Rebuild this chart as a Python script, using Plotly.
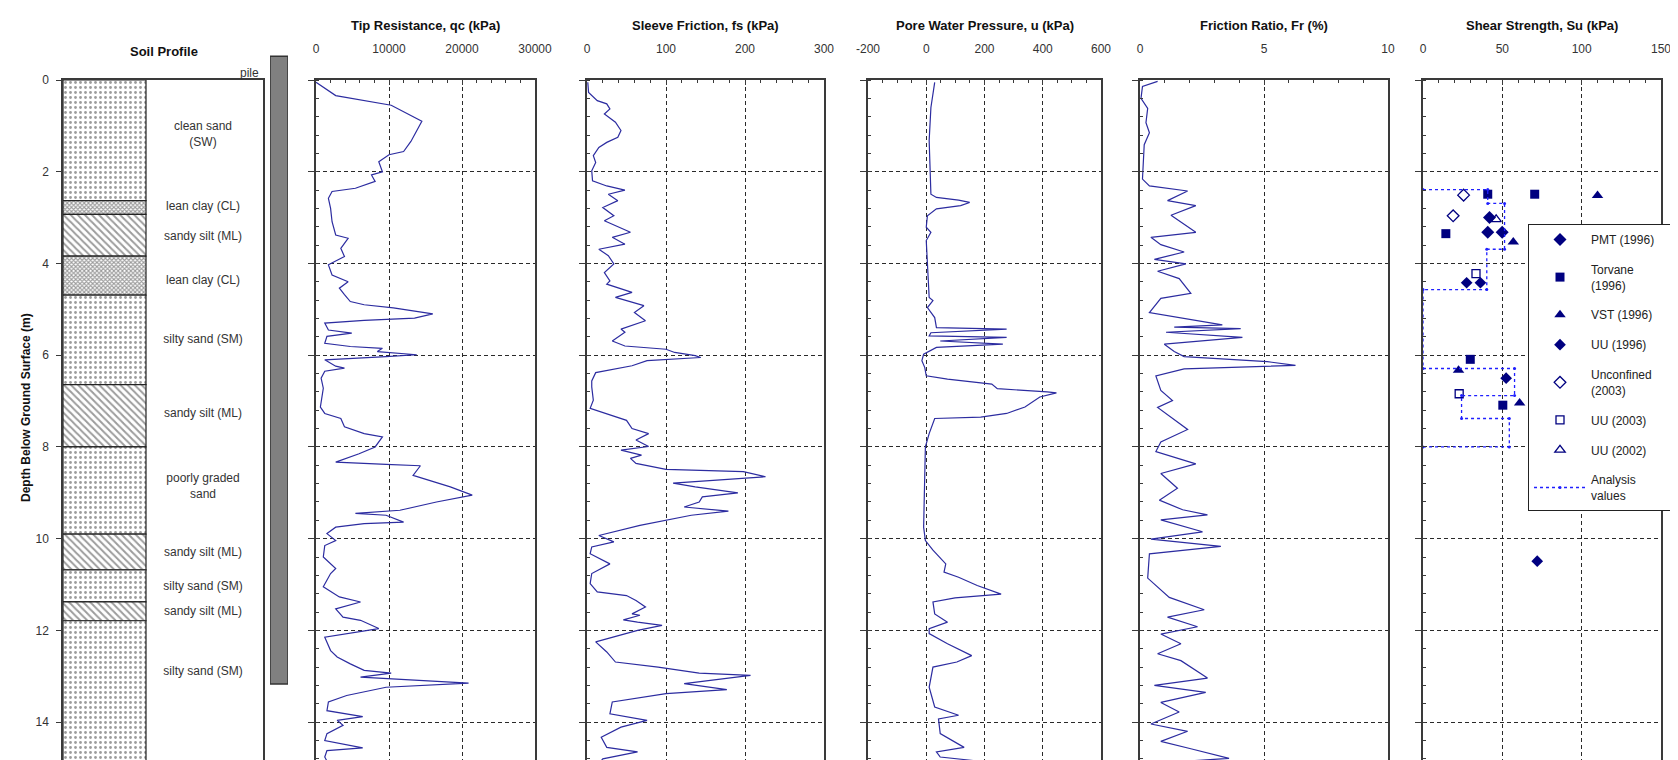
import plotly.graph_objects as go

W, H = 1678, 760

# ---------------- data ----------------
layer_top = [0.0, 2.63, 2.93, 3.84, 4.69, 6.64, 8.0, 9.9, 10.68, 11.38, 11.79]
layer_bottom = [2.63, 2.93, 3.84, 4.69, 6.64, 8.0, 9.9, 10.68, 11.38, 11.79, 15.5]
layer_type = ["sand", "clay", "silt", "clay", "sand", "silt", "sand", "silt", "sand", "silt", "sand"]
label_text = ["clean sand<br>(SW)", "lean clay (CL)", "sandy silt (ML)", "lean clay (CL)",
              "silty sand (SM)", "sandy silt (ML)", "poorly graded<br>sand", "sandy silt (ML)",
              "silty sand (SM)", "sandy silt (ML)", "silty sand (SM)"]
label_depth = [1.2, 2.77, 3.42, 4.38, 5.66, 7.29, 8.88, 10.32, 11.05, 11.6, 12.9]
pile_top, pile_bottom = -0.52, 13.17

qc_depth = [0.05, 0.34, 0.55, 0.9, 1.34, 1.56, 1.63, 1.78, 2.0, 2.07, 2.21, 2.36, 2.43, 2.58, 2.8, 3.09,
            3.38, 3.45, 3.67, 3.85, 4.03, 4.25, 4.4, 4.54, 4.68, 4.83, 4.9, 4.97, 5.1, 5.19, 5.24, 5.3,
            5.45, 5.52, 5.59, 5.74, 5.81, 5.85, 5.92, 5.99, 6.03, 6.1, 6.24, 6.28, 6.35, 6.5, 6.72,
            7.13, 7.27, 7.38, 7.56, 7.71, 7.78, 8.0, 8.15, 8.33, 8.38, 8.41, 8.62, 8.73, 8.87, 9.05,
            9.2, 9.38, 9.45, 9.49, 9.64, 9.67, 9.75, 9.89, 10.04, 10.15, 10.4, 10.65, 10.76, 11.05,
            11.27, 11.38, 11.53, 11.71, 11.78, 11.96, 12.15, 12.44, 12.58, 12.73, 12.87, 12.93, 13.02,
            13.15, 13.24, 13.42, 13.56, 13.75, 13.88, 13.96, 14.07, 14.25, 14.4, 14.56, 14.62, 14.76,
            14.91, 15.0]
qc_value = [0, 2700, 10300, 14500, 13000, 12000, 10000, 8600, 9100, 7600, 8100, 5400, 2200, 1700, 2000, 2200,
            2700, 4400, 3400, 3900, 1700, 2200, 4400, 3200, 3900, 4700, 6600, 10600, 16000, 13500, 6600, 1200,
            1700, 4900, 1500, 1200, 4700, 9100, 8400, 13800, 9600, 1200, 2700, 3900, 1200, 700, 1000,
            600, 1200, 3400, 3900, 6600, 9100, 8100, 5900, 2700, 9600, 14300, 13300, 15500, 18400, 21400,
            16500, 11500, 5400, 9600, 12000, 6600, 2700, 1500, 2700, 1200, 1000, 2700, 2000, 1000,
            3200, 6100, 2700, 3700, 6100, 8600, 1200, 2000, 2900, 4700, 6600, 10300, 6100,
            20900, 9600, 4200, 1700, 1500, 6400, 2900, 3700, 1500, 1200, 6400, 1500, 1200,
            1700, 1500]

fs_depth = [0.05, 0.27, 0.45, 0.52, 0.63, 0.74, 0.92, 1.1, 1.25, 1.36, 1.47, 1.65, 1.8, 1.98, 2.2, 2.31,
            2.4, 2.49, 2.63, 2.78, 2.96, 3.07, 3.32, 3.43, 3.58, 3.69, 3.83, 4.01, 4.2, 4.38, 4.45,
            4.63, 4.74, 4.92, 5.07, 5.25, 5.43, 5.5, 5.69, 5.8, 5.87, 5.94, 6.01, 6.05, 6.12, 6.23,
            6.38, 6.56, 6.69, 6.98, 7.16, 7.31, 7.42, 7.6, 7.71, 7.85, 7.99, 8.07, 8.18, 8.25, 8.36,
            8.49, 8.54, 8.65, 8.79, 8.87, 9.0, 9.09, 9.2, 9.31, 9.4, 9.49, 9.71, 9.93, 10.07, 10.18,
            10.33, 10.55, 10.76, 10.98, 11.16, 11.24, 11.35, 11.49, 11.64, 11.67, 11.77, 11.82, 11.89,
            12.0, 12.25, 12.47, 12.69, 12.8, 12.93, 12.98, 13.16, 13.29, 13.38, 13.56, 13.82, 13.96,
            14.11, 14.33, 14.55, 14.65, 14.8, 14.95]
fs_value = [1, 2, 13, 25, 29, 22, 36, 43, 39, 25, 15, 8, 11, 6, 7, 25,
            48, 27, 39, 20, 34, 22, 55, 32, 48, 15, 27, 34, 22, 29, 25,
            57, 36, 72, 60, 74, 43, 48, 32, 48, 100, 111, 137, 144, 76, 57,
            11, 6, 6, 8, 4, 29, 50, 57, 78, 62, 78, 43, 69, 55, 62,
            100, 198, 226, 109, 137, 191, 146, 142, 123, 179, 132, 67, 15, 34, 6,
            4, 29, 6, 4, 13, 50, 62, 74, 57, 67, 46, 64, 95,
            64, 11, 25, 36, 90, 142, 207, 123, 177, 100, 32, 29, 76,
            43, 18, 25, 64, 20, 13]

u_depth = [0.05, 0.6, 1.32, 1.9, 2.49, 2.56, 2.62, 2.67, 2.74, 2.81, 2.96, 3.21, 3.32, 3.5, 4.09, 4.74,
           4.81, 4.96, 5.18, 5.4, 5.43, 5.51, 5.58, 5.61, 5.69, 5.76, 5.83, 5.98, 6.12, 6.27, 6.45,
           6.52, 6.63, 6.73, 6.8, 6.82, 6.91, 7.13, 7.27, 7.35, 7.38, 7.71, 8.0, 8.87, 9.75, 10.04,
           10.25, 10.55, 10.73, 10.84, 11.02, 11.21, 11.29, 11.38, 11.64, 11.82, 11.96, 12.07, 12.29,
           12.55, 12.69, 12.8, 13.24, 13.67, 13.78, 13.85, 13.93, 14.25, 14.55, 14.65, 14.76, 14.95]
u_value = [29, 16, 10, 13, 16, 35, 111, 149, 118, 35, 4, 0, 16, 0, 4, 10,
           23, 4, 29, 35, 276, 16, 10, 276, 48, 263, 35, -9, -15, -5, 0,
           73, 225, 244, 415, 447, 390, 339, 276, 187, 29, 10, -3, -5, -9, -3,
           23, 67, 61, 111, 175, 257, 99, 23, 29, 73, 10, 10, 73,
           156, 105, 23, 10, 29, 80, 111, 42, 48, 130, 35, 48, 327]

fr_depth = [0.03, 0.14, 0.4, 0.62, 0.93, 1.15, 1.41, 1.78, 2.16, 2.31, 2.42, 2.63, 2.74, 2.95, 3.32, 3.43,
            3.59, 3.75, 3.91, 4.01, 4.17, 4.33, 4.65, 4.76, 5.07, 5.34, 5.39, 5.42, 5.5, 5.61, 5.76,
            5.92, 6.03, 6.14, 6.22, 6.3, 6.45, 6.77, 6.99, 7.14, 7.62, 7.89, 8.1, 8.37, 8.58, 8.9,
            9.16, 9.37, 9.48, 9.59, 9.85, 10.01, 10.17, 10.33, 10.86, 11.28, 11.55, 11.71, 11.92,
            12.08, 12.29, 12.51, 12.66, 13.04, 13.2, 13.35, 13.57, 13.78, 14.04, 14.2, 14.42, 14.58,
            14.79, 14.89, 15.0]
fr_value = [0.71, 0.1, 0.04, 0.31, 0.24, 0.38, 0.17, 0.15, 0.1, 0.38, 1.92, 1.11, 2.25, 1.25, 2.25, 0.44,
            0.84, 1.78, 0.58, 1.85, 0.71, 1.58, 2.05, 0.84, 0.38, 3.32, 1.38, 4.06, 1.05, 4.13, 0.98,
            1.38, 1.78, 5.13, 6.27, 1.78, 0.64, 0.84, 1.31, 0.71, 1.92, 0.84, 0.64, 2.25, 0.84, 1.51,
            0.78, 1.72, 2.72, 0.84, 2.52, 0.44, 3.26, 0.38, 0.31, 1.18, 2.59, 1.11, 2.32,
            0.84, 1.65, 0.71, 1.65, 2.72, 0.58, 2.65, 0.84, 1.58, 0.44, 1.92, 0.84, 2.05,
            3.59, 0.84, 1.18]

pmt96_su, pmt96_depth = [41.9, 40.8, 49.9], [3.0, 3.32, 3.32]
torv96_su, torv96_depth = [40.8, 70.4, 14.4, 29.8, 50.3], [2.49, 2.49, 3.35, 6.09, 7.09]
vst96_su, vst96_depth = [110.0, 56.9, 22.4, 60.9], [2.52, 3.53, 6.33, 7.04]
uu96_su, uu96_depth = [27.5, 36.2, 52.4, 72.0], [4.42, 4.42, 6.5, 10.49]
unc03_su, unc03_depth = [25.6, 19.0], [2.51, 2.96]
uu03_su, uu03_depth = [33.4, 22.8], [4.22, 6.84]
uu02_su, uu02_depth = [46.1], [3.04]
analysis_su = [0, 40.8, 40.8, 51.4, 51.4, 40.2, 40.2, 0, 0, 57.7, 57.7, 24.3, 24.3, 54.4, 54.4, 0]
analysis_depth = [2.39, 2.39, 2.69, 2.69, 3.69, 3.69, 4.57, 4.57, 6.29, 6.29, 6.88, 6.88, 7.38, 7.38, 8.0, 8.0]

panel_titles = ["Tip Resistance, qc (kPa)", "Sleeve Friction, fs (kPa)", "Pore Water Pressure, u (kPa)",
                "Friction Ratio, Fr (%)", "Shear Strength, Su (kPa)"]
panel_ranges = [[0, 30000], [0, 300], [-200, 600], [0, 10], [0, 150]]
panel_tickvals = [[0, 10000, 20000, 30000], [0, 100, 200, 300], [-200, 0, 200, 400, 600], [0, 5, 10], [0, 50, 100, 150]]
panel_ticktext = [["0", "10000", "20000", "30000"], ["0", "100", "200", "300"],
                  ["-200", "0", "200", "400", "600"], ["0", "5", "10"], ["0", "50", "100", "150"]]
panel_minor = [2000, 20, 50, 1, 10]
depth_ticks = [0, 2, 4, 6, 8, 10, 12, 14]

# ---------------- style ----------------
FONT = "Liberation Sans, Arial, sans-serif"
AX = "#3a3a3a"
GRID = "#2a2a2a"
LINE = "#2c2ca0"
NAVY = "#000080"
top_px = 72
ytop = 1 - top_px / H
px_per_m = (H - top_px) / 15.0
PAD = "\u00a0" * 6  # widens the legend box like the reference

soil_px = (55, 255)
col_frac = (138 - 55) / (255 - 55)
panel_px = [(308, 527), (579, 816), (860, 1093), (1132, 1380), (1415, 1653)]

fig = go.Figure()

# soil profile column
pat_shape = {"sand": ".", "silt": "\\", "clay": "x"}
pat_size = {"sand": 5, "silt": 5, "clay": 3}
pat_sol = {"sand": 0.25, "silt": 0.4, "clay": 0.6}
fig.add_trace(go.Bar(
    x=[col_frac / 2] * len(layer_top), width=[col_frac] * len(layer_top),
    base=layer_top, y=[b - t for t, b in zip(layer_top, layer_bottom)],
    marker=dict(color="white", line=dict(color="#222", width=1.2),
                pattern=dict(shape=[pat_shape[t] for t in layer_type],
                             size=[pat_size[t] for t in layer_type],
                             solidity=[pat_sol[t] for t in layer_type],
                             fgcolor="#3a3a3a", bgcolor="white", fillmode="overlay")),
    xaxis="x", yaxis="y", showlegend=False, hoverinfo="skip"))
fig.add_trace(go.Scatter(
    x=[0.70] * len(label_text), y=label_depth, text=label_text, mode="text",
    textfont=dict(family=FONT, size=12, color="#333"), textposition="middle center",
    xaxis="x", yaxis="y", showlegend=False, hoverinfo="skip"))

# pile
fig.add_trace(go.Bar(
    x=[0.5], width=[1.0], base=[pile_top], y=[pile_bottom - pile_top],
    marker=dict(color="#808080", line=dict(color="#333", width=1.5)),
    xaxis="x7", yaxis="y7", showlegend=False, hoverinfo="skip"))

# CPT traces
for i, (xs, ys) in enumerate([(qc_value, qc_depth), (fs_value, fs_depth), (u_value, u_depth), (fr_value, fr_depth)]):
    fig.add_trace(go.Scatter(x=xs, y=ys, mode="lines", line=dict(color=LINE, width=1.2),
                             xaxis=f"x{i+2}", yaxis=f"y{i+2}", showlegend=False, hoverinfo="skip"))

# shear strength
shear_series = [
    ("PMT (1996)" + PAD, pmt96_su, pmt96_depth, dict(symbol="diamond", size=10, color=NAVY)),
    ("Torvane<br>(1996)", torv96_su, torv96_depth, dict(symbol="square", size=9, color=NAVY)),
    ("VST (1996)", vst96_su, vst96_depth, dict(symbol="triangle-up", size=10, color=NAVY)),
    ("UU (1996)", uu96_su, uu96_depth, dict(symbol="diamond", size=9, color=NAVY)),
    ("Unconfined<br>(2003)", unc03_su, unc03_depth, dict(symbol="diamond-open", size=9, color=NAVY, line=dict(width=1.3))),
    ("UU (2003)", uu03_su, uu03_depth, dict(symbol="square-open", size=8, color=NAVY, line=dict(width=1.3))),
    ("UU (2002)", uu02_su, uu02_depth, dict(symbol="triangle-up-open", size=9, color=NAVY, line=dict(width=1.3))),
]
for k, (name, xs, ys, m) in enumerate(shear_series):
    fig.add_trace(go.Scatter(x=xs, y=ys, mode="markers", name=name, marker=m,
                             legendgroup=f"g{k}", xaxis="x6", yaxis="y6", hoverinfo="skip"))
fig.add_trace(go.Scatter(x=analysis_su, y=analysis_depth, mode="lines+markers", name="Analysis<br>values",
                         line=dict(color="#2020ff", width=1.3, dash="3px,3px"),
                         marker=dict(symbol="circle", size=3, color="#2020ff"),
                         legendgroup="g7", xaxis="x6", yaxis="y6", hoverinfo="skip"))

# ---------------- layout ----------------
tickfont = dict(family=FONT, size=12, color="#333")
layout = dict(
    template="none",
    width=W, height=H, margin=dict(l=0, r=0, t=0, b=0, pad=0, autoexpand=False),
    paper_bgcolor="white", plot_bgcolor="rgba(0,0,0,0)",
    font=dict(family=FONT, size=12, color="#222"),
    barmode="overlay", showlegend=True,
    legend=dict(x=1520 / W, y=1 - 216 / H, xanchor="left", yanchor="top",
                bgcolor="white", bordercolor="#222", borderwidth=1,
                font=dict(family=FONT, size=12, color="#222"),
                tracegroupgap=11, itemwidth=52,
                traceorder="grouped"),
)
# soil profile axes
layout["xaxis"] = dict(domain=[soil_px[0] / W, soil_px[1] / W], range=[0, 1], side="top", anchor="y",
                       automargin=False, showline=True, linecolor=AX, linewidth=1.5, mirror=False,
                       ticks="", showticklabels=False, showgrid=False, zeroline=False)
layout["yaxis"] = dict(domain=[0, ytop], range=[15, 0], anchor="x", automargin=False, showline=True, linecolor=AX,
                       linewidth=1.5, mirror=True, ticks="outside", ticklen=5, tickcolor=AX, tickwidth=1.3,
                       tickmode="array", tickvals=depth_ticks, ticktext=[str(d) for d in depth_ticks],
                       tickfont=tickfont, ticklabelstandoff=5,
                       showgrid=False, zeroline=False)
# pile axes
layout["xaxis7"] = dict(domain=[262 / W, 280 / W], range=[0, 1], anchor="y7", visible=False, automargin=False)
layout["yaxis7"] = dict(domain=[0, 1], range=[15, -top_px / px_per_m], anchor="x7", visible=False, automargin=False)

for i in range(5):
    n = i + 2
    x0, x1 = panel_px[i]
    layout[f"xaxis{n}"] = dict(
        domain=[x0 / W, x1 / W], range=panel_ranges[i], side="top", anchor=f"y{n}", automargin=False,
        tickmode="array", tickvals=panel_tickvals[i], ticktext=panel_ticktext[i],
        showline=True, linecolor=AX, linewidth=1.5, mirror=False,
        ticks="inside", ticklen=5, tickcolor=AX, tickwidth=1.3,
        tickfont=tickfont, ticklabelstandoff=20,
        showgrid=True, gridcolor=GRID, gridwidth=1.3, griddash="4px,3px", zeroline=False,
        minor=dict(tickmode="linear", tick0=panel_ranges[i][0], dtick=panel_minor[i],
                   ticks="inside", ticklen=3, tickcolor=AX, showgrid=False))
    layout[f"yaxis{n}"] = dict(
        domain=[0, ytop], range=[15, 0], anchor=f"x{n}", automargin=False,
        tickmode="array", tickvals=depth_ticks,
        showline=True, linecolor=AX, linewidth=1.5, mirror=True,
        ticks="outside", ticklen=6, tickcolor=AX, tickwidth=1.3, showticklabels=False,
        showgrid=True, gridcolor=GRID, gridwidth=1.3, griddash="4px,3px", zeroline=False,
        minor=dict(tickmode="linear", tick0=0, dtick=0.4, ticks="inside", ticklen=3, tickcolor=AX, showgrid=False))

annotations = []
title_font = dict(family=FONT, size=13, color="#111")
annotations.append(dict(text="<b>Soil Profile</b>", x=156 / W, y=1 - 43 / H, xref="paper", yref="paper",
                        showarrow=False, font=title_font, xanchor="center", yanchor="middle"))
for i, t in enumerate(panel_titles):
    x0, x1 = panel_px[i]
    annotations.append(dict(text=f"<b>{t}</b>", x=(x0 + x1) / 2 / W, y=1 - 17 / H, xref="paper", yref="paper",
                            showarrow=False, font=title_font, xanchor="center", yanchor="middle"))
annotations.append(dict(text="<b>Depth Below Ground Surface (m)</b>", x=18 / W, y=1 - 400 / H,
                        xref="paper", yref="paper", showarrow=False, textangle=-90,
                        font=dict(family=FONT, size=12, color="#111"), xanchor="center", yanchor="middle"))
annotations.append(dict(text="pile", x=253 / W, y=1 - 65 / H, xref="paper", yref="paper", showarrow=False,
                        font=dict(family=FONT, size=12, color="#333"), xanchor="right", yanchor="middle"))
layout["annotations"] = annotations
layout["shapes"] = [dict(type="line", xref="paper", yref="paper", x0=1675 / W, x1=1675 / W,
                         y0=1 - 13 / H, y1=0, line=dict(color="#777", width=3, dash="1px,24px"))]

fig.update_layout(**layout)
fig.write_html("out.html")
